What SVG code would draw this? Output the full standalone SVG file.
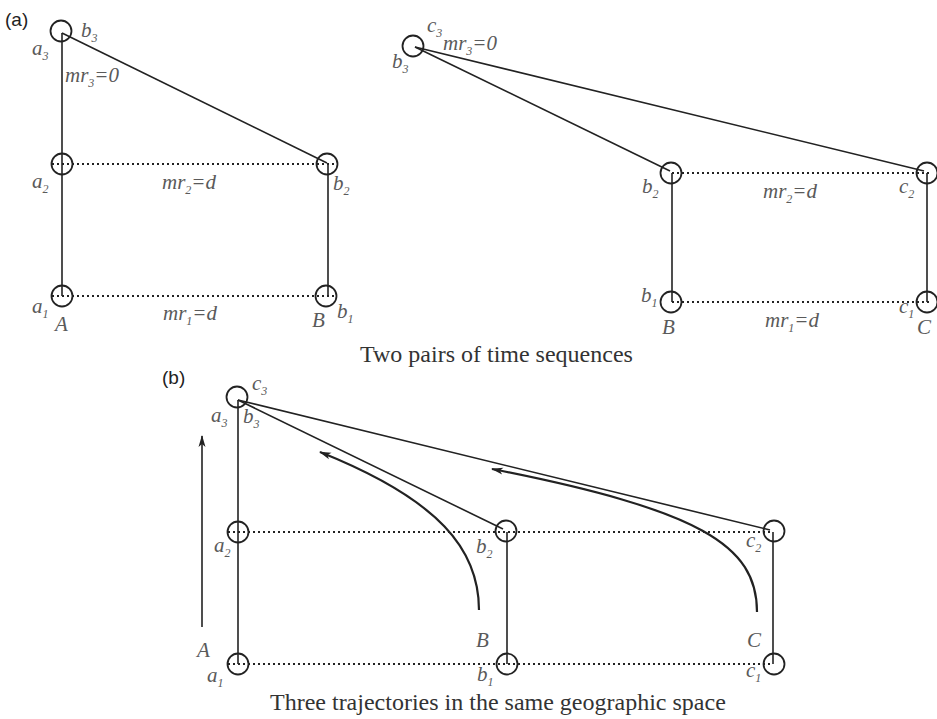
<svg xmlns="http://www.w3.org/2000/svg" width="937" height="719" viewBox="0 0 937 719">
<style>
.bg{fill:#fff}
.ln{stroke:#222;stroke-width:1.6;fill:none}
.dot{stroke:#222;stroke-width:2;stroke-dasharray:2 3;fill:none}
.cir{stroke:#222;stroke-width:1.8;fill:none}
.crv{stroke:#222;stroke-width:2.2;fill:none}
.lb{font-family:"Liberation Serif",serif;font-style:italic;font-size:21px;fill:#5a5a5a}
.sb{font-size:12px}
.tag{font-family:"Liberation Sans",sans-serif;font-size:19px;fill:#222}
.cap{font-family:"Liberation Serif",serif;font-size:24px;fill:#333}
</style>
<defs>
<marker id="ah" viewBox="0 0 12 8" refX="11" refY="4" markerWidth="12" markerHeight="8" markerUnits="userSpaceOnUse" orient="auto">
<path d="M0,0.5 L12,4 L0,7.5 L3,4 z" fill="#222"/>
</marker>
</defs>
<rect class="bg" width="937" height="719"/>

<text class="tag" x="5" y="26">(a)</text>
<text class="tag" x="162" y="384">(b)</text>

<g id="connectors">
<!-- panel a left -->
<line class="ln" x1="62" y1="33" x2="62" y2="296"/>
<line class="ln" x1="62" y1="33" x2="327" y2="163"/>
<line class="ln" x1="328" y1="164" x2="328" y2="296"/>
<line class="dot" x1="52" y1="164" x2="337" y2="164"/>
<line class="dot" x1="52" y1="296" x2="337" y2="296"/>
<!-- panel a right -->
<line class="ln" x1="415" y1="47" x2="670" y2="171"/>
<line class="ln" x1="415" y1="47" x2="924" y2="171"/>
<line class="ln" x1="672" y1="173" x2="672" y2="302"/>
<line class="ln" x1="927" y1="173" x2="927" y2="302"/>
<line class="dot" x1="672" y1="173" x2="930" y2="173"/>
<line class="dot" x1="672" y1="302" x2="930" y2="302"/>
<!-- panel b -->
<line class="ln" x1="238" y1="400" x2="238" y2="664"/>
<line class="ln" x1="238" y1="400" x2="503" y2="529"/>
<line class="ln" x1="238" y1="400" x2="770" y2="530"/>
<line class="ln" x1="507" y1="532" x2="507" y2="664"/>
<line class="ln" x1="773" y1="532" x2="773" y2="664"/>
<line class="dot" x1="228" y1="532" x2="770" y2="532"/>
<line class="dot" x1="228" y1="664" x2="770" y2="664"/>
<line class="ln" x1="202" y1="627" x2="202" y2="436" marker-end="url(#ah)"/>
<path class="crv" d="M479 610 C479 550 440 500 320 452" marker-end="url(#ah)"/>
<path class="crv" d="M757 612 C757 545 700 510 492 469" marker-end="url(#ah)"/>
</g>

<g id="node-a-left">
<circle class="cir" cx="61" cy="31" r="10.5"/>
<circle class="cir" cx="62" cy="164" r="10.5"/>
<circle class="cir" cx="62" cy="296" r="10.5"/>
<circle class="cir" cx="327" cy="164" r="10.5"/>
<circle class="cir" cx="326" cy="296" r="10.5"/>
<text class="lb" x="81" y="37">b<tspan class="sb" dy="5">3</tspan></text>
<text class="lb" x="32" y="55">a<tspan class="sb" dy="5">3</tspan></text>
<text class="lb" x="65" y="82">mr<tspan class="sb" dy="5">3</tspan><tspan dy="-5">=0</tspan></text>
<text class="lb" x="32" y="188">a<tspan class="sb" dy="5">2</tspan></text>
<text class="lb" x="162" y="189">mr<tspan class="sb" dy="5">2</tspan><tspan dy="-5">=d</tspan></text>
<text class="lb" x="333" y="190">b<tspan class="sb" dy="5">2</tspan></text>
<text class="lb" x="32" y="313">a<tspan class="sb" dy="5">1</tspan></text>
<text class="lb" x="55" y="331">A</text>
<text class="lb" x="163" y="320">mr<tspan class="sb" dy="5">1</tspan><tspan dy="-5">=d</tspan></text>
<text class="lb" x="312" y="327">B</text>
<text class="lb" x="337" y="318">b<tspan class="sb" dy="5">1</tspan></text>
</g>

<g id="node-a-right">
<circle class="cir" cx="413" cy="46" r="10.5"/>
<circle class="cir" cx="671" cy="173" r="10.5"/>
<circle class="cir" cx="927" cy="173" r="10.5"/>
<circle class="cir" cx="671" cy="302" r="10.5"/>
<circle class="cir" cx="927" cy="302" r="10.5"/>
<text class="lb" x="427" y="32">c<tspan class="sb" dy="5">3</tspan></text>
<text class="lb" x="443" y="50">mr<tspan class="sb" dy="5">3</tspan><tspan dy="-5">=0</tspan></text>
<text class="lb" x="392" y="68">b<tspan class="sb" dy="5">3</tspan></text>
<text class="lb" x="642" y="193">b<tspan class="sb" dy="5">2</tspan></text>
<text class="lb" x="763" y="198">mr<tspan class="sb" dy="5">2</tspan><tspan dy="-5">=d</tspan></text>
<text class="lb" x="899" y="193">c<tspan class="sb" dy="5">2</tspan></text>
<text class="lb" x="641" y="302">b<tspan class="sb" dy="5">1</tspan></text>
<text class="lb" x="662" y="334">B</text>
<text class="lb" x="765" y="327">mr<tspan class="sb" dy="5">1</tspan><tspan dy="-5">=d</tspan></text>
<text class="lb" x="899" y="313">c<tspan class="sb" dy="5">1</tspan></text>
<text class="lb" x="917" y="334">C</text>
</g>

<text class="cap" x="360" y="362">Two pairs of time sequences</text>

<g id="node-b">
<circle class="cir" cx="237" cy="397" r="10.5"/>
<circle class="cir" cx="238" cy="532" r="10.5"/>
<circle class="cir" cx="238" cy="664" r="10.5"/>
<circle class="cir" cx="506" cy="531" r="10.5"/>
<circle class="cir" cx="507" cy="664" r="10.5"/>
<circle class="cir" cx="774" cy="531" r="10.5"/>
<circle class="cir" cx="774" cy="664" r="10.5"/>
<text class="lb" x="252" y="390">c<tspan class="sb" dy="5">3</tspan></text>
<text class="lb" x="211" y="422">a<tspan class="sb" dy="5">3</tspan></text>
<text class="lb" x="243" y="423">b<tspan class="sb" dy="5">3</tspan></text>
<text class="lb" x="214" y="552">a<tspan class="sb" dy="5">2</tspan></text>
<text class="lb" x="476" y="553">b<tspan class="sb" dy="5">2</tspan></text>
<text class="lb" x="746" y="547">c<tspan class="sb" dy="5">2</tspan></text>
<text class="lb" x="197" y="657">A</text>
<text class="lb" x="207" y="682">a<tspan class="sb" dy="5">1</tspan></text>
<text class="lb" x="476" y="647">B</text>
<text class="lb" x="477" y="681">b<tspan class="sb" dy="5">1</tspan></text>
<text class="lb" x="747" y="647">C</text>
<text class="lb" x="746" y="677">c<tspan class="sb" dy="5">1</tspan></text>
</g>

<text class="cap" x="270" y="710">Three trajectories in the same geographic space</text>
</svg>
